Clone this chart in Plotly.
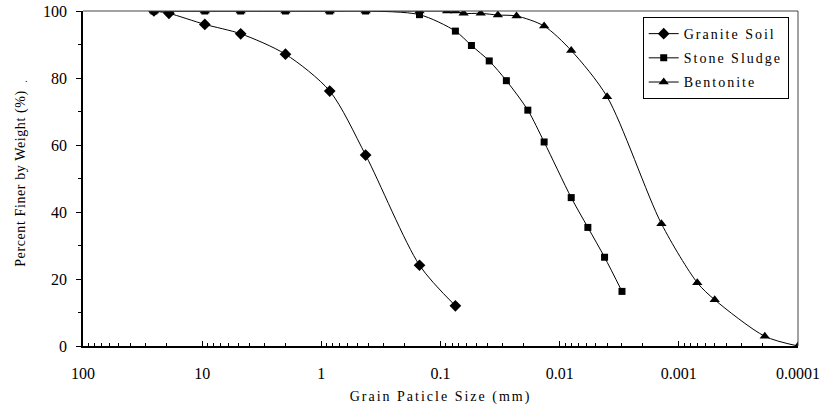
import plotly.graph_objects as go

# ---- data ----
granite_size = [25.4, 19.0, 9.5, 4.75, 2.0, 0.85, 0.425, 0.15, 0.075]
granite_pct = [100, 99.3, 96.0, 93.2, 87.1, 76.1, 57.0, 24.1, 12.0]

sludge_size = [25.4, 19.0, 9.5, 4.75, 2.0, 0.85, 0.425, 0.15, 0.075, 0.055, 0.039,
               0.028, 0.0185, 0.0135, 0.008, 0.0058, 0.0042, 0.003]
sludge_pct = [100, 100, 100, 100, 100, 100, 100, 98.9, 94.0, 89.7, 85.1,
              79.2, 70.4, 60.9, 44.3, 35.4, 26.5, 16.3]

bent_size = [25.4, 19.0, 9.5, 4.75, 2.0, 0.85, 0.425, 0.15, 0.088, 0.075, 0.064,
             0.046, 0.033, 0.023, 0.0135, 0.008, 0.004, 0.0014, 0.0007, 0.0005,
             0.00019, 0.0001]
bent_pct = [100, 100, 100, 100, 100, 100, 100, 100, 100, 100, 99.3,
            99.3, 98.8, 98.5, 95.5, 88.2, 74.4, 36.5, 18.9, 13.8,
            2.9, 0]

x_tickvals = [100, 10, 1, 0.1, 0.01, 0.001, 0.0001]
x_ticktext = ["100", "10", "1", "0.1", "0.01", "0.001", "0.0001"]
y_tickvals = [0, 20, 40, 60, 80, 100]

series = [
    ("Granite Soil", granite_size, granite_pct, "diamond", 9),
    ("Stone Sludge", sludge_size, sludge_pct, "square", 7),
    ("Bentonite", bent_size, bent_pct, "triangle-up", 9),
]

FONT = "Liberation Serif, Times New Roman, serif"

def spaced(t, px):
    return f'<span style="letter-spacing:{px}px">{t}</span>'

fig = go.Figure()
for i, (name, xs, ys, sym, sz) in enumerate(series):
    fig.add_trace(go.Scatter(
        x=xs, y=ys, name=spaced(name, 2), mode="lines+markers",
        line=dict(color="black", width=1, shape="spline", smoothing=0.8),
        marker=dict(symbol=sym, size=sz, color="black"),
        legendgroup=f"g{i}",
    ))

minor_vals = []
for dec in [10, 1, 0.1, 0.01, 0.001, 0.0001]:
    for m in range(2, 10):
        minor_vals.append(dec * m)

fig.update_xaxes(
    type="log", range=[2, -4], automargin=False,
    tickmode="array", tickvals=x_tickvals, ticktext=x_ticktext,
    ticks="inside", ticklen=5, tickwidth=1, tickcolor="black",
    minor=dict(tickmode="array", tickvals=minor_vals, ticks="inside",
               ticklen=3, tickwidth=1, tickcolor="black", showgrid=False),
    showline=True, linecolor="black", linewidth=1.5,
    showgrid=False, zeroline=False,
    tickfont=dict(family=FONT, size=16, color="black"),
    ticklabelstandoff=12,
    title=dict(text=spaced("Grain Paticle Size (mm)", 2),
               font=dict(family=FONT, size=14, color="black"), standoff=10),
)
fig.update_yaxes(
    range=[0, 100], automargin=False,
    tickmode="array", tickvals=y_tickvals,
    ticks="outside", ticklen=5, tickwidth=1, tickcolor="black",
    minor=dict(tickmode="array", tickvals=[10, 30, 50, 70, 90], ticks="outside",
               ticklen=3, tickwidth=1, tickcolor="black", showgrid=False),
    showline=True, linecolor="black", linewidth=1.5,
    showgrid=False, zeroline=False,
    tickfont=dict(family=FONT, size=16, color="black"),
    ticklabelstandoff=6,
    title=dict(text=spaced("Percent Finer by Weight (%)", 0.6),
               font=dict(family=FONT, size=14, color="black"), standoff=14),
)

# top and right frame lines
fig.add_shape(type="line", xref="paper", yref="paper", x0=0, x1=1, y0=1, y1=1,
              line=dict(color="#444", width=1))
fig.add_shape(type="line", xref="paper", yref="paper", x0=1, x1=1, y0=0, y1=1,
              line=dict(color="#444", width=1))

fig.add_annotation(text=".", xref="paper", yref="paper", x=-0.0843, y=0.822,
                   showarrow=False, font=dict(family=FONT, size=10, color="black"))

fig.update_layout(
    width=823, height=412,
    margin=dict(l=83, r=25, t=11, b=66),
    paper_bgcolor="white", plot_bgcolor="white",
    showlegend=True,
    legend=dict(
        x=0.987, y=0.982, xanchor="right", yanchor="top",
        bordercolor="black", borderwidth=1, bgcolor="white",
        font=dict(family=FONT, size=14, color="black"),
        traceorder="grouped", tracegroupgap=3,
        itemwidth=30,
    ),
)

fig.write_html("out.html", config={"displayModeBar": False},
               post_script="document.body.style.margin='0';")
